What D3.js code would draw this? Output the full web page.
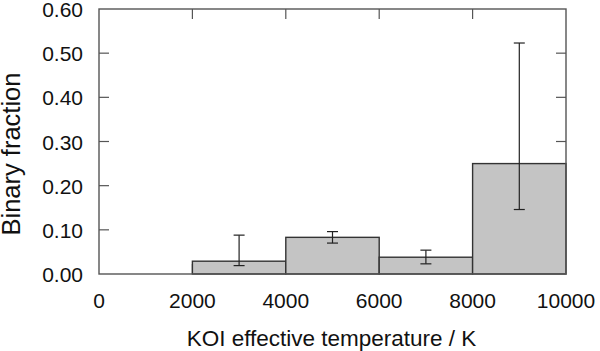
<!DOCTYPE html>
<html>
<head>
<meta charset="utf-8">
<script src="https://cdn.jsdelivr.net/npm/d3@7"></script>
<style>
  body { margin: 0; background: #fff; }
  text { font-family: "Liberation Sans", Arial, sans-serif; fill: #111; }
</style>
</head>
<body>
<svg id="chart" width="600" height="351"></svg>
<script>
// bins of KOI effective temperature (K)
const binStart = [2000, 4000, 6000, 8000];
const binEnd = [4000, 6000, 8000, 10000];
const fraction = [0.029, 0.083, 0.038, 0.25];
const errLow = [0.019, 0.070, 0.023, 0.146];
const errHigh = [0.088, 0.096, 0.054, 0.523];
const xTicks = [0, 2000, 4000, 6000, 8000, 10000];
const yTicks = [0, 0.1, 0.2, 0.3, 0.4, 0.5, 0.6];

const bins = binStart.map((s, i) => ({ start: s, end: binEnd[i], value: fraction[i], lo: errLow[i], hi: errHigh[i] }));

const margin = { top: 9, right: 34, bottom: 77, left: 99 };
const width = 600 - margin.left - margin.right;
const height = 351 - margin.top - margin.bottom;

const svg = d3.select("#chart");
const chartArea = svg.append("g")
    .attr("transform", `translate(${margin.left},${margin.top})`);

const xScale = d3.scaleLinear().domain([0, 10000]).range([0, width]);
const yScale = d3.scaleLinear().domain([0, 0.6]).range([height, 0]);

const axisColour = "#555";
const tickLen = 10;

// inward ticks on all four sides
chartArea.selectAll(".ytick-left")
    .data(yTicks.slice(1, -1))
    .join("line")
    .attr("stroke", axisColour).attr("stroke-width", 1.2)
    .attr("x1", 0).attr("x2", tickLen)
    .attr("y1", d => yScale(d)).attr("y2", d => yScale(d));

chartArea.selectAll(".ytick-right")
    .data(yTicks.slice(1, -1))
    .join("line")
    .attr("stroke", axisColour).attr("stroke-width", 1.2)
    .attr("x1", width - tickLen).attr("x2", width)
    .attr("y1", d => yScale(d)).attr("y2", d => yScale(d));

chartArea.selectAll(".xtick-top")
    .data(xTicks.slice(1, -1))
    .join("line")
    .attr("stroke", axisColour).attr("stroke-width", 1.2)
    .attr("x1", d => xScale(d)).attr("x2", d => xScale(d))
    .attr("y1", 0).attr("y2", tickLen);

chartArea.selectAll(".xtick-bottom")
    .data(xTicks.slice(1, -1))
    .join("line")
    .attr("stroke", axisColour).attr("stroke-width", 1.2)
    .attr("x1", d => xScale(d)).attr("x2", d => xScale(d))
    .attr("y1", height - tickLen).attr("y2", height);

// bars
chartArea.selectAll(".bar")
    .data(bins)
    .join("rect")
    .attr("class", "bar")
    .attr("x", d => xScale(d.start))
    .attr("width", d => xScale(d.end) - xScale(d.start))
    .attr("y", d => yScale(d.value))
    .attr("height", d => height - yScale(d.value))
    .attr("fill", "#c4c4c4")
    .attr("stroke", "#333")
    .attr("stroke-width", 1.4);

// error bars
const errG = chartArea.selectAll(".err")
    .data(bins)
    .join("g")
    .attr("class", "err")
    .attr("stroke", "#222")
    .attr("stroke-width", 1.2);

const mid = d => xScale((d.start + d.end) / 2);
errG.append("line")
    .attr("x1", mid).attr("x2", mid)
    .attr("y1", d => yScale(d.lo)).attr("y2", d => yScale(d.hi));
errG.append("line")
    .attr("x1", d => mid(d) - 5.5).attr("x2", d => mid(d) + 5.5)
    .attr("y1", d => yScale(d.hi)).attr("y2", d => yScale(d.hi));
errG.append("line")
    .attr("x1", d => mid(d) - 5.5).attr("x2", d => mid(d) + 5.5)
    .attr("y1", d => yScale(d.lo)).attr("y2", d => yScale(d.lo));

// frame
chartArea.append("rect")
    .attr("width", width).attr("height", height)
    .attr("fill", "none")
    .attr("stroke", axisColour)
    .attr("stroke-width", 1.4);

// tick labels
chartArea.selectAll(".ylabel")
    .data(yTicks)
    .join("text")
    .attr("class", "ylabel")
    .attr("text-anchor", "end")
    .attr("font-size", 21)
    .attr("x", -16)
    .attr("y", d => yScale(d) + 8)
    .text(d => d3.format(".2f")(d));

chartArea.selectAll(".xlabel")
    .data(xTicks)
    .join("text")
    .attr("class", "xlabel")
    .attr("text-anchor", "middle")
    .attr("font-size", 21)
    .attr("x", d => xScale(d))
    .attr("y", 308 - margin.top)
    .text(d => d);

// axis titles
svg.append("text")
    .attr("text-anchor", "middle")
    .attr("font-size", 22.5)
    .attr("x", 331.5)
    .attr("y", 346)
    .text("KOI effective temperature / K");

svg.append("text")
    .attr("text-anchor", "middle")
    .attr("font-size", 25.5)
    .attr("transform", "translate(20,154) rotate(-90)")
    .text("Binary fraction");
</script>
</body>
</html>
